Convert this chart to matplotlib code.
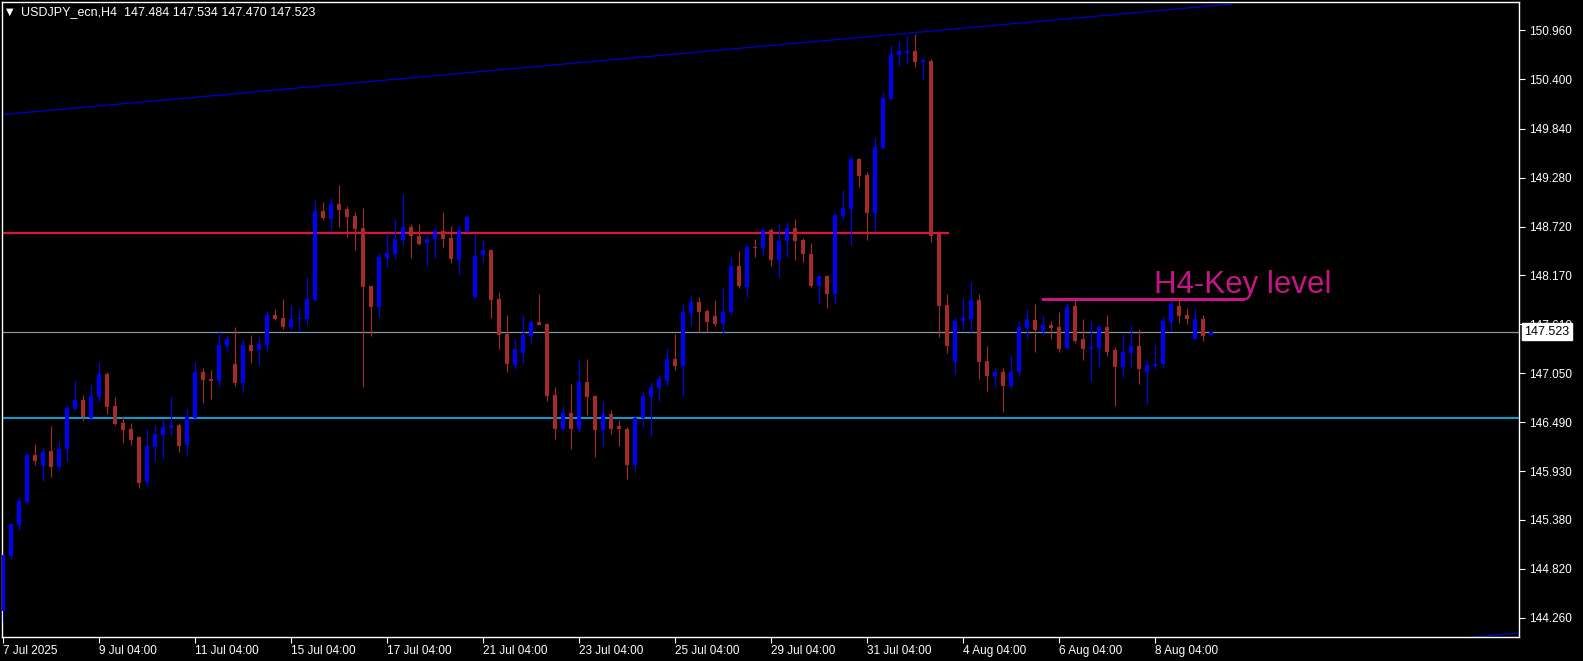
import numpy as np
import matplotlib
matplotlib.use("Agg")
import matplotlib.pyplot as plt

# USDJPY H4 candles
opens = [144.34, 144.97, 145.32, 145.58, 146.12, 145.99, 146.16, 145.98, 146.19, 146.64,
         146.74, 146.54, 146.78, 147.04, 146.68, 146.48, 146.41, 146.32, 145.81, 146.21,
         146.35, 146.43, 146.46, 146.23, 146.54, 147.07, 146.98, 146.96, 147.36, 147.15,
         146.94, 147.37, 147.31, 147.37, 147.71, 147.68, 147.58, 147.665, 147.67, 147.88,
         148.90, 148.81, 148.98, 148.92, 148.84, 148.71, 148.04, 147.80, 148.36, 148.41,
         148.57, 148.72, 148.61, 148.53, 148.58, 148.67, 148.59, 148.34, 148.67, 147.92,
         148.40, 148.46, 147.90, 147.50, 147.14, 147.28, 147.47, 147.63, 147.61, 146.80,
         146.41, 146.60, 146.42, 146.95, 146.79, 146.40, 146.58, 146.45, 146.42, 146.00,
         146.54, 146.78, 146.88, 146.96, 147.21, 147.13, 147.74, 147.86, 147.76, 147.70,
         147.61, 147.75, 148.27, 148.03, 148.49, 148.48, 148.68, 148.34, 148.56, 148.71,
         148.57, 148.41, 148.04, 148.16, 147.95, 148.84, 148.92, 149.49, 149.31, 148.88,
         149.62, 150.18, 150.68, 150.70, 150.73, 150.60, 150.61, 148.64, 147.83, 147.18,
         147.65, 147.67, 147.88, 147.19, 147.02, 147.06, 146.91, 147.06, 147.57, 147.66,
         147.53, 147.60, 147.58, 147.34, 147.82, 147.44, 147.33, 147.34, 147.58, 147.31,
         147.12, 147.28, 147.36, 147.07, 147.13, 147.15, 147.63, 147.82, 147.71, 147.44,
         147.67, 147.484]
highs = [145.00, 145.34, 145.64, 146.15, 146.24, 146.21, 146.45, 146.28, 146.69, 146.97,
         146.80, 146.92, 147.18, 147.06, 146.78, 146.56, 146.48, 146.33, 146.41, 146.46,
         146.53, 146.79, 146.48, 146.64, 147.18, 147.11, 147.09, 147.52, 147.49, 147.58,
         147.44, 147.49, 147.46, 147.76, 147.78, 147.90, 147.83, 147.79, 148.15, 149.02,
         149.00, 149.05, 149.20, 148.96, 148.89, 148.93, 148.05, 148.42, 148.65, 148.81,
         149.09, 148.75, 148.75, 148.63, 148.72, 148.89, 148.73, 148.74, 148.85, 148.64,
         148.57, 148.47, 147.98, 147.72, 147.44, 147.71, 147.67, 147.95, 147.62, 146.89,
         146.68, 146.93, 147.20, 147.21, 146.80, 146.73, 146.63, 146.52, 146.44, 146.56,
         146.84, 146.95, 147.03, 147.34, 147.50, 147.84, 147.94, 147.92, 147.78, 147.88,
         148.02, 148.38, 148.44, 148.52, 148.58, 148.72, 148.71, 148.75, 148.77, 148.81,
         148.59, 148.53, 148.17, 148.17, 148.89, 149.14, 149.54, 149.50, 149.35, 149.73,
         150.26, 150.79, 150.84, 150.90, 150.92, 150.66, 150.63, 148.65, 147.95, 147.69,
         147.91, 148.09, 147.95, 147.36, 147.11, 147.11, 147.26, 147.65, 147.78, 147.84,
         147.71, 147.65, 147.75, 147.85, 147.88, 147.67, 147.65, 147.60, 147.71, 147.35,
         147.50, 147.59, 147.56, 147.20, 147.37, 147.70, 147.88, 147.88, 147.79, 147.79,
         147.72, 147.534]
lows = [144.21, 144.93, 145.26, 145.56, 146.00, 145.82, 145.87, 145.93, 146.05, 146.62,
        146.51, 146.51, 146.72, 146.58, 146.46, 146.25, 146.23, 145.74, 145.75, 146.05,
        146.07, 146.33, 146.15, 146.12, 146.51, 146.71, 146.76, 146.89, 147.30, 146.90,
        146.84, 147.17, 147.14, 147.30, 147.66, 147.55, 147.54, 147.53, 147.60, 147.87,
        148.80, 148.68, 148.72, 148.60, 148.455, 146.89, 147.47, 147.69, 148.26, 148.35,
        148.51, 148.36, 148.51, 148.27, 148.36, 148.49, 148.31, 148.17, 148.66, 147.90,
        148.32, 147.68, 147.33, 147.06, 147.10, 147.15, 147.39, 147.60, 146.73, 146.30,
        146.39, 146.19, 146.38, 146.57, 146.10, 146.22, 146.36, 146.22, 145.84, 145.93,
        146.44, 146.33, 146.73, 146.91, 147.09, 146.79, 147.59, 147.52, 147.52, 147.59,
        147.51, 147.72, 148.02, 147.92, 148.38, 148.39, 148.27, 148.15, 148.38, 148.34,
        148.32, 148.03, 147.84, 147.79, 147.84, 148.80, 148.51, 149.17, 148.57, 148.67,
        149.61, 150.17, 150.55, 150.58, 150.54, 150.40, 148.55, 147.46, 147.28, 147.04,
        147.54, 147.52, 146.98, 146.85, 146.89, 146.61, 146.87, 147.02, 147.44, 147.29,
        147.47, 147.44, 147.29, 147.33, 147.39, 147.20, 146.96, 147.13, 147.25, 146.68,
        147.01, 147.11, 146.93, 146.70, 147.10, 147.12, 147.53, 147.62, 147.61, 147.43,
        147.42, 147.470]
closes = [144.98, 145.33, 145.59, 146.12, 146.05, 146.15, 145.98, 146.19, 146.65, 146.74,
          146.55, 146.79, 147.04, 146.66, 146.47, 146.40, 146.29, 145.80, 146.22, 146.36,
          146.44, 146.46, 146.22, 146.55, 147.07, 146.97, 146.96, 147.37, 147.44, 146.94,
          147.37, 147.30, 147.38, 147.71, 147.67, 147.58, 147.67, 147.67, 147.90, 148.90,
          148.82, 148.98, 148.91, 148.83, 148.69, 148.03, 147.80, 148.38, 148.42, 148.58,
          148.72, 148.61, 148.52, 148.58, 148.67, 148.58, 148.35, 148.68, 148.83, 148.39,
          148.46, 147.88, 147.49, 147.15, 147.33, 147.49, 147.63, 147.60, 146.79, 146.41,
          146.60, 146.42, 146.95, 146.78, 146.40, 146.58, 146.42, 146.41, 146.00, 146.54,
          146.79, 146.89, 146.98, 147.21, 147.13, 147.75, 147.86, 147.75, 147.63, 147.61,
          147.75, 148.27, 148.04, 148.49, 148.48, 148.68, 148.34, 148.56, 148.71, 148.56,
          148.41, 148.04, 148.16, 147.95, 148.85, 148.93, 149.49, 149.30, 148.88, 149.63,
          150.19, 150.69, 150.72, 150.73, 150.60, 150.62, 148.61, 147.82, 147.36, 147.65,
          147.68, 147.88, 147.18, 147.02, 147.07, 146.90, 147.07, 147.58, 147.67, 147.54,
          147.60, 147.57, 147.33, 147.80, 147.42, 147.33, 147.35, 147.58, 147.29, 147.12,
          147.29, 147.36, 147.10, 147.14, 147.16, 147.65, 147.84, 147.70, 147.67, 147.67,
          147.47, 147.523]

# axis labels
date_ticks = [0, 12, 24, 36, 48, 60, 72, 84, 96, 108, 120, 132, 144]
date_labels = ["7 Jul 2025", "9 Jul 04:00", "11 Jul 04:00", "15 Jul 04:00", "17 Jul 04:00",
               "21 Jul 04:00", "23 Jul 04:00", "25 Jul 04:00", "29 Jul 04:00", "31 Jul 04:00",
               "4 Aug 04:00", "6 Aug 04:00", "8 Aug 04:00"]
price_ticks = [150.96, 150.40, 149.84, 149.28, 148.72, 148.17, 147.61, 147.05,
               146.49, 145.93, 145.38, 144.82, 144.26]

# drawn objects
resistance = 148.65
resistance_end = 118.1
support = 146.535
last_price = 147.523
key_level = 147.90
key_level_span = [130.0, 155.0]
channel_top_x = [0, 153.6]
channel_top_y = [150.00, 151.26]
channel_bot_x = [150, 189.5]
channel_bot_y = [143.77, 144.09]

bull = "#0000FF"
bear = "#A52A2A"

fig = plt.figure(figsize=(15.83, 6.61), dpi=100, facecolor="black")
ax = fig.add_axes([2 / 1583, 24 / 661, 1517 / 1583, 635 / 661])
ax.set_facecolor("black")

x = np.arange(len(opens))
o = np.array(opens)
c = np.array(closes)
cols = [bull if cc >= oo else bear for oo, cc in zip(o, c)]

ax.vlines(x, lows, highs, colors=cols, linewidth=0.8, zorder=3)
h = np.maximum(np.abs(c - o), 0.012)
ax.bar(x, h, bottom=np.minimum(o, c), width=0.6, color=cols, linewidth=0, zorder=4)

# lines
ax.plot([-1, resistance_end], [resistance, resistance], color="#DC143C", lw=1.6, zorder=2)
ax.axhline(support, color="#00BFFF", lw=1.2, zorder=2)
ax.axhline(last_price, color="#8795A5", lw=0.9, zorder=2)
ax.plot(channel_top_x, channel_top_y, color="#0000CD", lw=0.9, zorder=2)
ax.plot(channel_bot_x, channel_bot_y, color="#0000CD", lw=0.9, zorder=2)
ax.plot(key_level_span, [key_level, key_level], color="#C71585", lw=2.2, zorder=5)
ax.text(143.9, 147.96, "H4-Key level", color="#C71585", fontsize=22.5,
        family="Liberation Sans", va="baseline", ha="left", zorder=6)

ax.set_xlim(-0.125, 189.5)
ax.set_ylim(144.043, 151.283)

for s in ax.spines.values():
    s.set_color("white")
    s.set_linewidth(1)

ax.yaxis.tick_right()
ax.set_yticks(price_ticks)
ax.set_yticklabels(["%.3f" % v for v in price_ticks])
ax.set_xticks(date_ticks)
ax.set_xticklabels(date_labels, ha="left")
ax.tick_params(colors="white", labelcolor="white", length=4, width=0.8, labelsize=8.5)
ax.tick_params(axis="x", pad=2)
ax.tick_params(axis="y", pad=3)
for t in ax.get_xticklabels() + ax.get_yticklabels():
    t.set_family("Liberation Sans")

# current price box (covers the 147.610 label, as in the terminal)
ax.text(1.0035, last_price, "147.523", transform=ax.get_yaxis_transform(),
        color="black", fontsize=9, family="Liberation Sans", va="center", ha="left",
        bbox=dict(boxstyle="square,pad=0.2", fc="white", ec="white"), clip_on=False, zorder=10)

# header
fig.text(6 / 1583, 1 - 12 / 661, "▼", color="white", fontsize=7, va="center",
         family=["DejaVu Sans"])
fig.text(21 / 1583, 1 - 12 / 661, "USDJPY_ecn,H4  147.484 147.534 147.470 147.523",
         color="white", fontsize=9, family="Liberation Sans", va="center")

fig.savefig("out.png", dpi=100, facecolor="black")
